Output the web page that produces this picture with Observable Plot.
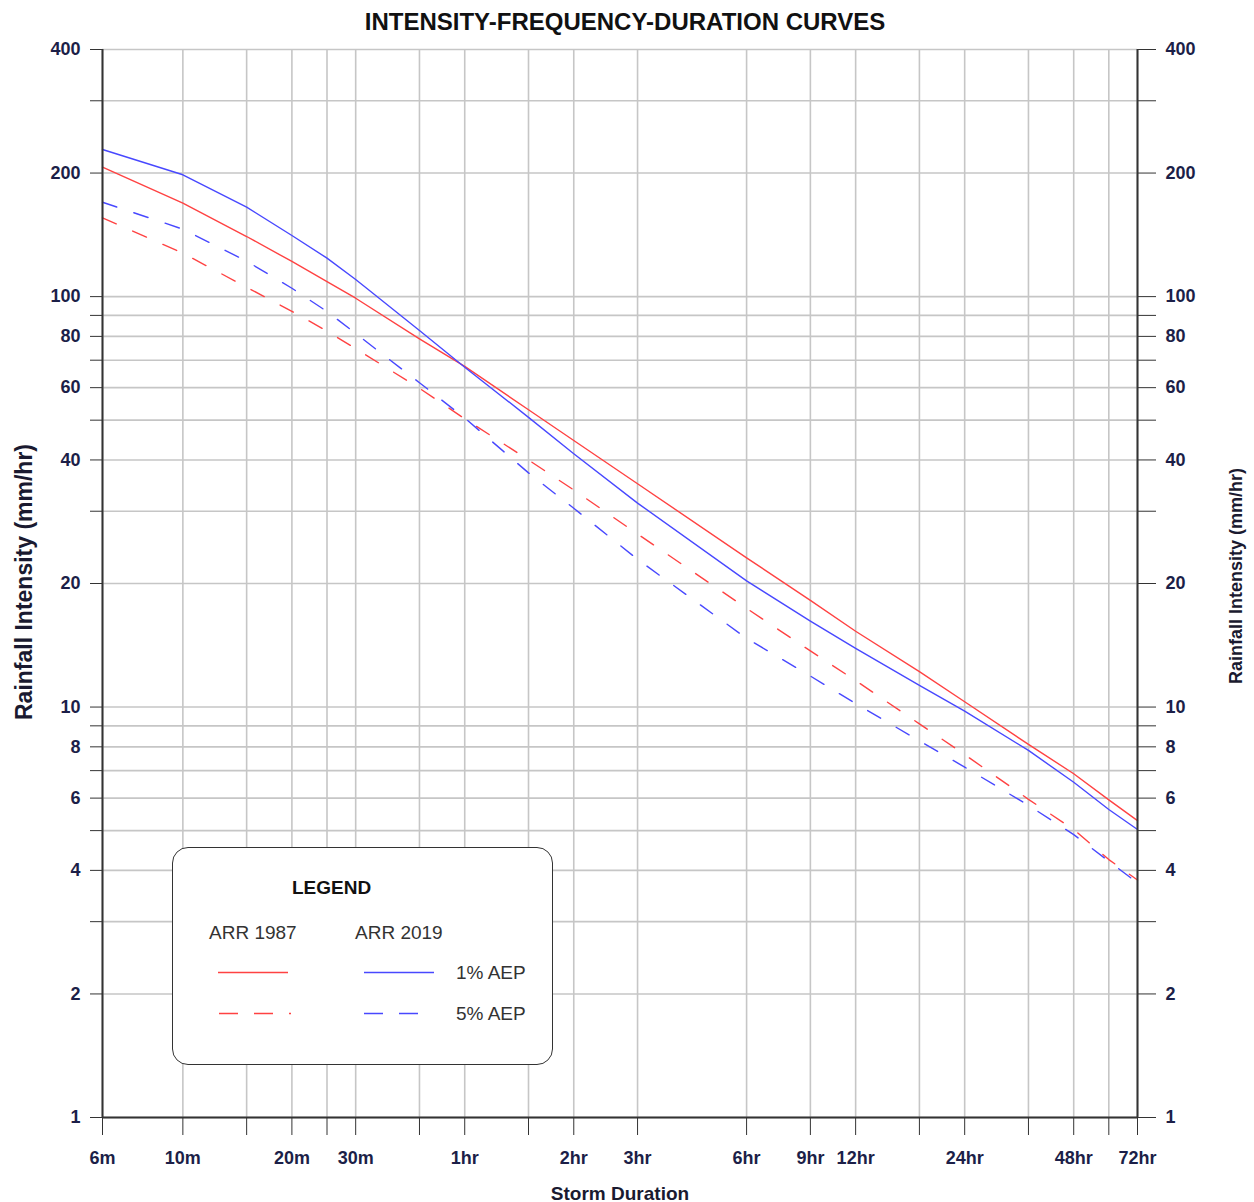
<!DOCTYPE html>
<html>
<head>
<meta charset="utf-8">
<script src="https://cdn.jsdelivr.net/npm/d3@7"></script>
<script src="https://cdn.jsdelivr.net/npm/@observablehq/plot@0.6"></script>
<style>
  html, body { margin: 0; padding: 0; background: #fff; }
  #wrap { position: relative; width: 1254px; height: 1202px; font-family: "Liberation Sans", Arial, sans-serif; }
  #wrap svg { display: block; }
  .ov { position: absolute; white-space: nowrap; line-height: 1; }
  .title { left: 0; width: 1250px; top: 10px; text-align: center; font-weight: bold; font-size: 24px; color: #111; }
  .xlab { left: 0; width: 1240px; top: 1184px; text-align: center; font-weight: bold; font-size: 19px; color: #1a1a30; }
  .ylabL { left: 24px; top: 582px; transform: translate(-50%, -50%) rotate(-90deg); font-weight: bold; font-size: 23px; color: #1a1a30; }
  .ylabR { left: 1236px; top: 576px; transform: translate(-50%, -50%) rotate(-90deg); font-weight: bold; font-size: 18px; color: #1a1a30; }
  #legend { position: absolute; left: 172px; top: 847px; width: 381px; height: 218px; border: 1.5px solid #333; border-radius: 16px; background: #fff; box-sizing: border-box; }
  #legend .t { position: absolute; font-size: 19px; color: #333; line-height: 1; }
</style>
</head>
<body>
<div id="wrap"></div>
<script>
// ---- data (minutes on x, mm/hr on y) ----
const durations = [6, 10, 15, 20, 25, 30, 45, 60, 90, 120, 180, 360, 540, 720, 1080, 1440, 2160, 2880, 3600, 4320];
const arr1987_1pct = [206.7, 168.9, 140.1, 121.8, 108.8, 99.1, 78.9, 67.6, 53.0, 44.6, 35.0, 23.1, 18.2, 15.3, 12.2, 10.3, 8.11, 6.88, 5.94, 5.29];
const arr2019_1pct = [228.3, 198.1, 165.2, 140.9, 124.1, 110.1, 82.7, 67.3, 50.8, 41.4, 31.4, 20.3, 16.2, 13.9, 11.3, 9.77, 7.84, 6.56, 5.63, 5.03];
const arr1987_5pct = [155.6, 127.6, 105.4, 92.1, 82.4, 74.7, 59.8, 50.4, 40.0, 33.8, 26.4, 17.4, 13.7, 11.6, 9.10, 7.66, 5.96, 5.03, 4.25, 3.79];
const arr2019_5pct = [169.8, 146.0, 122.0, 104.8, 92.0, 81.3, 61.7, 50.6, 37.2, 30.5, 22.9, 14.7, 11.9, 10.2, 8.27, 7.14, 5.76, 4.89, 4.21, 3.73];

const xTicks = [6, 10, 15, 20, 25, 30, 45, 60, 90, 120, 180, 360, 540, 720, 1080, 1440, 2160, 2880, 3600, 4320];
const xLabelValues = [6, 10, 20, 30, 60, 120, 180, 360, 540, 720, 1440, 2880, 4320];
const xLabelTexts = ["6m", "10m", "20m", "30m", "1hr", "2hr", "3hr", "6hr", "9hr", "12hr", "24hr", "48hr", "72hr"];
const yTicks = [1, 2, 3, 4, 5, 6, 7, 8, 9, 10, 20, 30, 40, 50, 60, 70, 80, 90, 100, 200, 300, 400];
const yTickLabels = [1, 2, 4, 6, 8, 10, 20, 40, 60, 80, 100, 200, 400];

const toRows = (vals) => durations.map((d, i) => ({d, v: vals[i]}));
const xLabelRows = xLabelValues.map((d, i) => ({d, label: xLabelTexts[i]}));

const RED = "#ff4242";
const BLUE = "#4848ff";
const axisInk = "#333";
const labelInk = "#1c1f48";

const chart = Plot.plot({
  width: 1254,
  height: 1202,
  marginLeft: 102,
  marginRight: 117,
  marginTop: 49,
  marginBottom: 85,
  x: {type: "log", domain: [6, 4320]},
  y: {type: "log", domain: [1, 400]},
  style: {fontFamily: "'Liberation Sans', Arial, sans-serif", fontSize: "18px", fontWeight: "bold", background: "white", color: labelInk},
  marks: [
    Plot.gridX(xTicks, {stroke: "#c6c6c6", strokeOpacity: 1, strokeWidth: 1.6}),
    Plot.gridY(yTicks, {stroke: "#c6c6c6", strokeOpacity: 1, strokeWidth: 1.6}),
    Plot.line(toRows(arr1987_5pct), {x: "d", y: "v", stroke: RED, strokeWidth: 1.4, strokeDasharray: "15,18"}),
    Plot.line(toRows(arr2019_5pct), {x: "d", y: "v", stroke: BLUE, strokeWidth: 1.4, strokeDasharray: "15,18"}),
    Plot.line(toRows(arr1987_1pct), {x: "d", y: "v", stroke: RED, strokeWidth: 1.4}),
    Plot.line(toRows(arr2019_1pct), {x: "d", y: "v", stroke: BLUE, strokeWidth: 1.4}),
    Plot.ruleX([6, 4320], {stroke: axisInk, strokeWidth: 2}),
    Plot.ruleY([1], {stroke: axisInk, strokeWidth: 2}),
    Plot.axisY(yTicks, {anchor: "left", tickSize: 12, tickPadding: 10, stroke: axisInk, fill: labelInk, fontWeight: "bold", fontSize: 18,
      tickFormat: (d) => yTickLabels.includes(d) ? String(d) : "", label: null}),
    Plot.axisY(yTicks, {anchor: "right", tickSize: 18, tickPadding: 10, stroke: axisInk, fill: labelInk, fontWeight: "bold", fontSize: 18,
      tickFormat: (d) => yTickLabels.includes(d) ? String(d) : "", label: null}),
    Plot.axisX(xTicks, {anchor: "bottom", tickSize: 18, stroke: axisInk, tickFormat: () => "", label: null}),
    Plot.text(xLabelRows, {x: "d", text: "label", frameAnchor: "bottom", dy: 41, lineAnchor: "middle",
      fill: labelInk, fontWeight: "bold", fontSize: 18})
  ]
});

const wrap = document.getElementById("wrap");
wrap.appendChild(chart);

function addDiv(cls, text) {
  const el = document.createElement("div");
  el.className = "ov " + cls;
  el.textContent = text;
  wrap.appendChild(el);
  return el;
}
addDiv("title", "INTENSITY-FREQUENCY-DURATION CURVES");
addDiv("xlab", "Storm Duration");
addDiv("ylabL", "Rainfall Intensity (mm/hr)");
addDiv("ylabR", "Rainfall Intensity (mm/hr)");

// legend
const legendTitle = "LEGEND";
const legendCols = ["ARR 1987", "ARR 2019"];
const legendRows = ["1% AEP", "5% AEP"];
const lg = document.createElement("div");
lg.id = "legend";
lg.innerHTML = `
  <div class="t" style="left:119px; top:30px; font-weight:bold; color:#111;">${legendTitle}</div>
  <div class="t" style="left:36px; top:75px;">${legendCols[0]}</div>
  <div class="t" style="left:182px; top:75px;">${legendCols[1]}</div>
  <div class="t" style="left:283px; top:115px;">${legendRows[0]}</div>
  <div class="t" style="left:283px; top:156px;">${legendRows[1]}</div>
  <svg width="381" height="218" style="position:absolute;left:0;top:0;overflow:visible">
    <line x1="45" x2="115" y1="124.5" y2="124.5" stroke="${RED}" stroke-width="1.6"/>
    <line x1="191" x2="261" y1="124.5" y2="124.5" stroke="${BLUE}" stroke-width="1.6"/>
    <line x1="46" x2="118" y1="165.5" y2="165.5" stroke="${RED}" stroke-width="1.6" stroke-dasharray="19,16"/>
    <line x1="191" x2="246" y1="165.5" y2="165.5" stroke="${BLUE}" stroke-width="1.6" stroke-dasharray="19,16"/>
  </svg>`;
wrap.appendChild(lg);
</script>
</body>
</html>
